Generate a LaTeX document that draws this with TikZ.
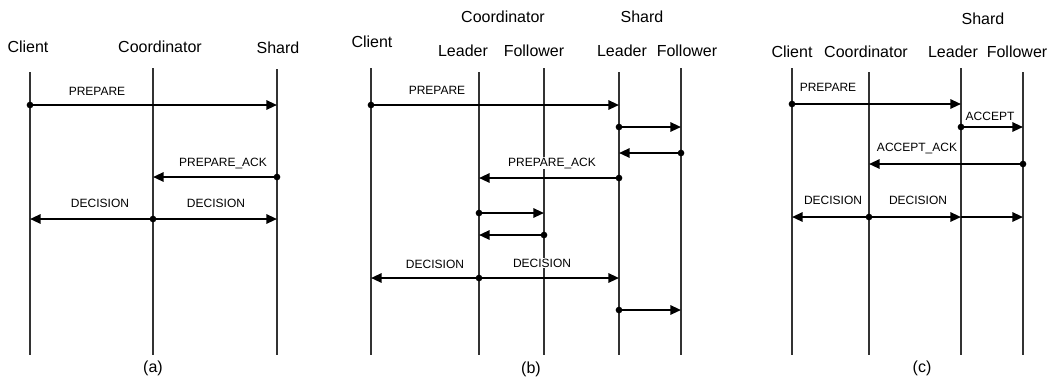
\documentclass[tikz,border=0pt]{standalone}
\usepackage{fontspec}
\setmainfont{Liberation Sans}
\usepackage{tikz}
\usetikzlibrary{arrows.meta}
\usetikzlibrary{calc}
\tikzset{
  lifeline/.style={draw=black!80, line width=0.8pt},
  msg/.style={line width=1.5pt, -{Triangle[length=8pt,width=7pt]}},
  dot/.style={circle, fill, inner sep=0pt, minimum size=5pt},
  actor/.style={font=\fontsize{12}{14}\selectfont, inner sep=1pt},
  msglabel/.style={font=\fontsize{9}{11}\selectfont, fill=white, inner sep=0.5pt},
  caption/.style={font=\fontsize{12}{14}\selectfont}
}

\begin{document}
\begin{tikzpicture}[x=0.75pt, y=-0.75pt]
  \useasboundingbox (0,0) rectangle (1047,380);

  % (a) plain two-phase commit
  \coordinate (a-client) at (30,72);
  \coordinate (a-coord) at (153,68);
  \coordinate (a-shard) at (277,69);
  \node[actor] (a-client-lbl) at (28,47) {Client};
  \node[actor] (a-coord-lbl) at (160,47) {Coordinator};
  \node[actor] (a-shard-lbl) at (278,48) {Shard};
  \foreach \l in {a-client, a-coord, a-shard}
    \draw[lifeline] (\l) -- (\l |- 0,355);
  \node[msglabel] (a-prep-lbl) at (97,91) {PREPARE};
  \node[msglabel] (a-ack-lbl) at (223,163) {PREPARE\_ACK};
  \node[msglabel] (a-dec1-lbl) at (100,203) {DECISION};
  \node[msglabel] (a-dec2-lbl) at (216,203) {DECISION};
  \node[dot] (a1) at (a-client |- 0,105) {};
  \draw[msg] (a1.center) -- (a-shard |- a1);
  \node[dot] (a2) at (a-shard |- 0,177) {};
  \draw[msg] (a2.center) -- (a-coord |- a2);
  \node[dot] (a3) at (a-coord |- 0,219) {};
  \draw[msg] (a3.center) -- (a-client |- a3);
  \draw[msg] (a3.center) -- (a-shard |- a3);
  \node[caption] (a-cap) at (153,368) {(a)};

  % (b) replicated coordinator and shard
  \coordinate (b-client) at (371,68);
  \coordinate (b-cleader) at (479,72);
  \coordinate (b-cfollower) at (544,68);
  \coordinate (b-sleader) at (619,72);
  \coordinate (b-sfollower) at (681,68);
  \node[actor] (b-coord-lbl) at (503,17) {Coordinator};
  \node[actor] (b-shard-lbl) at (642,17) {Shard};
  \node[actor] (b-client-lbl) at (372,42) {Client};
  \node[actor] (b-cleader-lbl) at (463,51) {Leader};
  \node[actor] (b-cfollower-lbl) at (534,51) {Follower};
  \node[actor] (b-sleader-lbl) at (622,51) {Leader};
  \node[actor] (b-sfollower-lbl) at (687,51) {Follower};
  \foreach \l in {b-client, b-cleader, b-cfollower, b-sleader, b-sfollower}
    \draw[lifeline] (\l) -- (\l |- 0,355);
  \node[msglabel] (b-prep-lbl) at (437,90) {PREPARE};
  \node[msglabel] (b-ack-lbl) at (552,163) {PREPARE\_ACK};
  \node[msglabel] (b-dec1-lbl) at (435,264) {DECISION};
  \node[msglabel] (b-dec2-lbl) at (542,263) {DECISION};
  \node[dot] (b1) at (b-client |- 0,105) {};
  \draw[msg] (b1.center) -- (b-sleader |- b1);
  \node[dot] (b2) at (b-sleader |- 0,127) {};
  \draw[msg] (b2.center) -- (b-sfollower |- b2);
  \node[dot] (b3) at (b-sfollower |- 0,153) {};
  \draw[msg] (b3.center) -- (b-sleader |- b3);
  \node[dot] (b4) at (b-sleader |- 0,178) {};
  \draw[msg] (b4.center) -- (b-cleader |- b4);
  \node[dot] (b5) at (b-cleader |- 0,213) {};
  \draw[msg] (b5.center) -- (b-cfollower |- b5);
  \node[dot] (b6) at (b-cfollower |- 0,235) {};
  \draw[msg] (b6.center) -- (b-cleader |- b6);
  \node[dot] (b7) at (b-cleader |- 0,278) {};
  \draw[msg] (b7.center) -- (b-client |- b7);
  \draw[msg] (b7.center) -- (b-sleader |- b7);
  \node[dot] (b8) at (b-sleader |- 0,310) {};
  \draw[msg] (b8.center) -- (b-sfollower |- b8);
  \node[caption] (b-cap) at (531,369) {(b)};

  % (c) shard replication inside the commit
  \coordinate (c-client) at (792,68);
  \coordinate (c-coord) at (869,72);
  \coordinate (c-leader) at (961,68);
  \coordinate (c-follower) at (1023,72);
  \node[actor] (c-shard-lbl) at (983,19) {Shard};
  \node[actor] (c-client-lbl) at (792,52) {Client};
  \node[actor] (c-coord-lbl) at (866,52) {Coordinator};
  \node[actor] (c-leader-lbl) at (953,52) {Leader};
  \node[actor] (c-follower-lbl) at (1017,52) {Follower};
  \foreach \l in {c-client, c-coord, c-leader, c-follower}
    \draw[lifeline] (\l) -- (\l |- 0,355);
  \node[msglabel] (c-prep-lbl) at (828,87) {PREPARE};
  \node[msglabel] (c-acc-lbl) at (990,116) {ACCEPT};
  \node[msglabel] (c-ack-lbl) at (917,148) {ACCEPT\_ACK};
  \node[msglabel] (c-dec1-lbl) at (833,200) {DECISION};
  \node[msglabel] (c-dec2-lbl) at (918,200) {DECISION};
  \node[dot] (c1) at (c-client |- 0,104) {};
  \draw[msg] (c1.center) -- (c-leader |- c1);
  \node[dot] (c2) at (c-leader |- 0,127) {};
  \draw[msg] (c2.center) -- (c-follower |- c2);
  \node[dot] (c3) at (c-follower |- 0,164) {};
  \draw[msg] (c3.center) -- (c-coord |- c3);
  \node[dot] (c4) at (c-coord |- 0,217) {};
  \draw[msg] (c4.center) -- (c-client |- c4);
  \draw[msg] (c4.center) -- (c-leader |- c4);
  \draw[msg] (c-leader |- c4) -- (c-follower |- c4);
  \node[caption] (c-cap) at (922,368) {(c)};
\end{tikzpicture}
\end{document}
